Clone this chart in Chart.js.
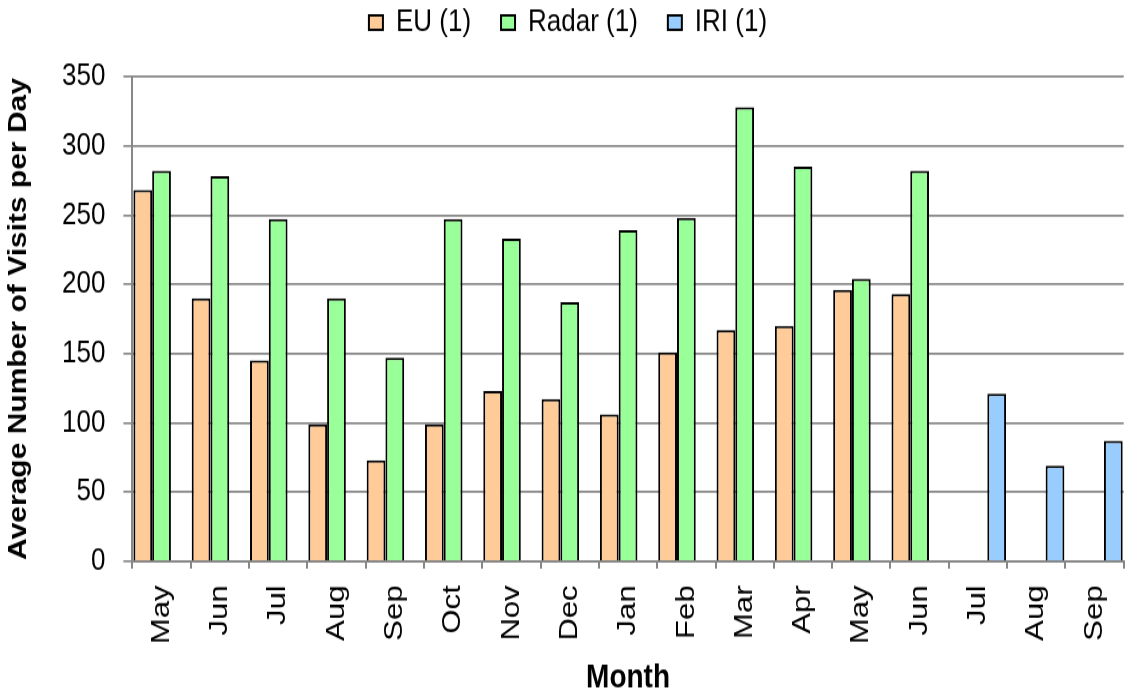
<!DOCTYPE html>
<html>
<head>
<meta charset="utf-8">
<script src="https://cdn.jsdelivr.net/npm/chart.js@4/dist/chart.umd.min.js"></script>
<style>
  html, body { margin: 0; padding: 0; background: #fff; overflow: hidden; width: 1127px; height: 695px; }
  /* the original picture is stretched vertically, so draw flatter and scale up */
  #wrap { position: absolute; left: 0; top: -29px; width: 1140px; height: 603px; transform: scaleY(1.2); transform-origin: 0 0; }
</style>
</head>
<body>
<div id="wrap"><canvas id="visits" width="1140" height="603"></canvas></div>
<script>
const months = ['May', 'Jun', 'Jul', 'Aug', 'Sep', 'Oct', 'Nov', 'Dec', 'Jan', 'Feb', 'Mar', 'Apr', 'May', 'Jun', 'Jul', 'Aug', 'Sep'];

const euVisits = [268, 190, 145, 99, 73, 99, 123, 117, 106, 151, 167, 170, 196, 193, null, null, null];
const radarVisits = [282, 278, 247, 190, 147, 247, 233, 187, 239, 248, 328, 285, 204, 282, null, null, null];
const iriVisits = [null, null, null, null, null, null, null, null, null, null, null, null, null, null, 121, 69, 87];

const yTicks = [0, 50, 100, 150, 200, 250, 300, 350];

const font = "'Liberation Sans', Arial, sans-serif";
const gridGray = '#878787';

// extra space between legend and plot
const legendMargin = {
  id: 'legendMargin',
  beforeInit(chart) {
    const fit = chart.legend.fit;
    chart.legend.fit = function () {
      fit.bind(chart.legend)();
      this.height += 22;
    };
  }
};

const ctx = document.getElementById('visits').getContext('2d');

let visitsChart = new Chart(ctx, {
  type: 'bar',
  data: {
    labels: months,
    datasets: [{
      label: 'EU (1)',
      data: euVisits,
      backgroundColor: '#FFCC99',
      borderColor: '#000',
      borderWidth: 2
    }, {
      label: 'Radar (1)',
      data: radarVisits,
      backgroundColor: '#99FF99',
      borderColor: '#000',
      borderWidth: 2
    }, {
      label: 'IRI (1)',
      data: iriVisits,
      backgroundColor: '#99CCFF',
      borderColor: '#000',
      borderWidth: 2
    }]
  },
  plugins: [legendMargin],
  options: {
    responsive: false,
    animation: false,
    layout: {
      padding: { left: 4, right: 8, top: 0, bottom: 0 }
    },
    datasets: {
      bar: {
        categoryPercentage: 0.965,
        barPercentage: 1
      }
    },
    plugins: {
      tooltip: { enabled: false },
      legend: {
        position: 'top',
        labels: {
          color: '#000',
          font: { family: font, size: 26 },
          boxWidth: 14,
          boxHeight: 12,
          padding: 30
        }
      }
    },
    scales: {
      x: {
        grid: {
          offset: true,
          drawOnChartArea: false,
          drawTicks: true,
          tickLength: 6,
          color: gridGray,
          lineWidth: 2
        },
        border: { color: gridGray, width: 2 },
        ticks: {
          autoSkip: false,
          maxRotation: 90,
          minRotation: 90,
          padding: 14,
          color: '#000',
          font: { family: font, size: 26 }
        },
        title: {
          display: true,
          text: 'Month',
          color: '#000',
          font: { family: font, size: 28, weight: 'bold', lineHeight: 1 },
          padding: { top: 0, bottom: 0 }
        }
      },
      y: {
        min: 0,
        max: 350,
        afterBuildTicks: axis => {
          axis.ticks = yTicks.map(v => ({ value: v }));
        },
        grid: {
          color: gridGray,
          lineWidth: 1.7,
          tickLength: 9
        },
        border: { color: gridGray, width: 2 },
        ticks: {
          padding: 18,
          color: '#000',
          font: { family: font, size: 26 }
        },
        title: {
          display: true,
          text: 'Average Number of Visits per Day',
          color: '#000',
          font: { family: font, size: 25, weight: 'bold' },
          padding: { top: 0, bottom: 10 }
        }
      }
    }
  }
});
</script>
</body>
</html>
